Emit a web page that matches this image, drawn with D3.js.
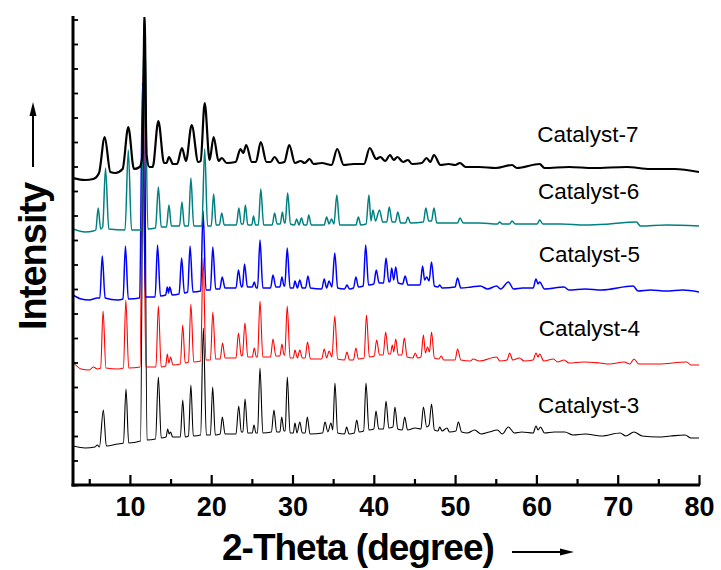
<!DOCTYPE html>
<html><head><meta charset="utf-8">
<script src="https://cdn.jsdelivr.net/npm/d3@7/dist/d3.min.js"></script>
<style>
body{margin:0;background:#fff}
svg{display:block;background:#fff}
text{font-family:"Liberation Sans",Arial,Helvetica,sans-serif;fill:#000}
</style>
</head><body>
<svg id="chart" width="721" height="570"></svg>
<script>
// ---------- DATA (2-Theta in degrees, intensity in a.u., curves already stacked) ----------
const seriesNames = ["Catalyst-3", "Catalyst-4", "Catalyst-5", "Catalyst-6", "Catalyst-7"];

const catalyst3 = [[3,39],[4.5,37],[5.7,38],[6.0,40],[6.25,38],[6.73,75],[7.1,39],[8.5,41],[9.2,42],[9.52,96],[9.85,42],[11.3,44],[11.73,470],[12.1,45],[13.15,46],[13.5,108],[13.85,47],[14.45,48],[14.65,56],[14.82,51],[15.0,53],[15.25,48],[16.2,48],[16.5,85],[16.8,48],[17.2,49],[17.5,100],[17.8,49],[18.7,50],[19.03,157],[19.4,50],[19.9,50],[20.18,98],[20.5,50],[21.1,51],[21.37,68],[21.7,51],[23.05,51],[23.38,79],[23.7,53],[23.9,53],[24.16,86],[24.5,52],[25.05,52],[25.26,60],[25.5,52],[25.7,52],[26.0,117],[26.35,52],[27.4,53],[27.72,75],[28.05,53],[28.45,53],[28.67,68],[28.95,54],[29.1,54],[29.36,108],[29.7,52],[30.1,52],[30.3,62],[30.55,52],[30.9,63],[31.2,52],[31.55,52],[31.82,68],[32.15,51],[33.7,52],[34.0,63],[34.35,53],[34.73,62],[34.95,55],[35.22,102],[35.55,52],[36.4,51],[36.66,58],[36.95,51],[37.6,52],[37.9,65],[38.2,53],[38.75,54],[39.04,102],[39.4,55],[40.0,56],[40.27,74],[40.6,56],[41.2,56],[41.5,84],[41.85,57],[42.35,58],[42.6,78],[42.95,56],[43.5,55],[43.8,68],[44.15,55],[45.1,57],[45.8,56],[46.1,78],[46.5,58],[46.8,60],[47.1,81],[47.45,55],[47.9,54],[48.1,58],[48.4,54],[49.0,57],[49.3,53],[50.1,54],[50.4,63],[50.8,53],[51.5,52],[52.4,55],[53.2,51],[54.2,53],[55.2,55],[55.8,51],[56.55,58],[57.3,52],[58.2,53],[59.6,52],[59.95,59],[60.2,55],[60.5,58],[61.0,52],[62.2,53],[63.5,53],[64.5,50],[66,51],[68,49],[70.3,52],[71,49],[72.0,53],[73,49],[75,48],[76.5,49],[78.3,50],[79,47],[80,47]];

const catalyst4 = [[3,123],[4,116],[5,115],[5.5,118],[6.0,116],[6.4,117],[6.7,174],[7.05,117],[8.5,116],[9.2,117],[9.5,185],[9.85,117],[11.25,118],[11.6,408],[11.95,118],[13.2,118],[13.5,179],[13.85,118],[14.4,119],[14.6,131],[14.8,122],[15.0,128],[15.3,120],[16.2,121],[16.5,160],[16.8,122],[17.2,123],[17.5,181],[17.85,123],[18.7,124],[19.0,227],[19.35,125],[19.9,125],[20.2,173],[20.55,126],[21.1,126],[21.4,142],[21.7,127],[23.05,127],[23.35,152],[23.7,129],[23.85,130],[24.15,162],[24.5,128],[25.05,128],[25.3,137],[25.55,128],[25.7,128],[26.0,184],[26.35,128],[27.3,128],[27.6,146],[27.95,129],[28.45,129],[28.7,141],[28.95,130],[29.05,130],[29.35,179],[29.7,127],[30.1,127],[30.3,135],[30.6,127],[30.9,135],[31.2,127],[31.55,127],[31.85,143],[32.2,126],[33.6,126],[33.9,136],[34.2,127],[34.5,134],[34.85,128],[35.2,169],[35.55,126],[36.4,125],[36.7,133],[37.0,125],[37.5,125],[37.8,137],[38.1,126],[38.8,127],[39.1,170],[39.45,128],[40.05,129],[40.35,145],[40.7,130],[41.15,130],[41.46,153],[41.8,131],[42.05,131],[42.27,140],[42.45,133],[42.7,146],[43.0,130],[43.45,130],[43.75,147],[44.1,128],[44.8,127],[45.1,132],[45.4,127],[45.8,128],[46.1,150],[46.35,132],[46.6,138],[46.85,133],[47.1,153],[47.45,127],[48.0,126],[48.3,129],[48.6,125],[50.0,125],[50.3,136],[50.7,125],[51.9,124],[52.2,126],[53,124],[55.1,128],[55.5,124],[56.4,125],[56.7,132],[57.1,125],[57.9,127],[58.5,124],[59.6,125],[59.95,132],[60.2,128],[60.4,131],[60.9,124],[62.1,126],[62.6,123],[63.4,125],[64,122],[65.8,123],[67.8,122],[69,121],[70.8,123],[71.5,121],[72.0,126],[72.6,121],[75,121],[78.5,123],[79,120],[80,120]];

const catalyst5 = [[3,190],[4,186],[5,185],[6.0,187],[6.3,187],[6.6,229],[6.95,187],[8.5,185],[9.15,186],[9.45,239],[9.8,186],[11.2,187],[11.55,402],[11.9,188],[13.1,188],[13.4,240],[13.75,189],[14.4,190],[14.6,198],[14.75,192],[14.9,198],[15.2,190],[16.05,191],[16.36,227],[16.7,192],[17.1,193],[17.4,239],[17.75,193],[18.7,194],[19.0,274],[19.35,195],[19.9,195],[20.2,238],[20.55,196],[21.05,196],[21.35,208],[21.7,197],[23.05,197],[23.35,215],[23.7,198],[23.85,199],[24.1,221],[24.45,198],[25.05,198],[25.3,203],[25.55,197],[25.7,197],[26.0,245],[26.35,197],[27.3,197],[27.6,210],[27.95,198],[28.45,198],[28.7,208],[28.95,199],[29.05,199],[29.35,237],[29.7,197],[30.1,197],[30.3,204],[30.6,197],[30.9,205],[31.2,197],[31.6,197],[31.9,209],[32.2,197],[33.6,196],[33.9,206],[34.2,197],[34.5,204],[34.85,198],[35.2,232],[35.55,197],[36.4,196],[36.7,200],[37.0,196],[37.5,197],[37.8,208],[38.1,198],[38.7,199],[39.0,240],[39.35,200],[40.0,201],[40.3,215],[40.65,202],[41.2,202],[41.5,227],[41.85,203],[42.0,204],[42.2,217],[42.45,205],[42.7,218],[43.0,202],[43.55,201],[43.85,209],[44.2,200],[45.7,200],[46.0,219],[46.25,205],[46.5,208],[46.8,204],[47.1,223],[47.45,199],[47.9,198],[48.1,200],[48.4,197],[50.0,198],[50.3,207],[50.7,197],[52,198],[53.1,199],[54,196],[55.1,199],[55.6,196],[56.55,203],[57.2,196],[58.3,197],[59.6,197],[59.95,206],[60.2,201],[60.4,203],[61,196],[63.4,198],[64,195],[66,196],[68,195],[71.9,199],[72.5,194],[74,195],[76,194],[78,195],[80,193]];

const catalyst6 = [[3,256],[4.5,253],[5.5,254],[5.8,255],[6.1,277],[6.4,256],[6.65,258],[7.0,317],[7.4,256],[9.4,255],[9.8,335],[10.2,255],[11.4,255],[11.8,470],[12.2,256],[13.15,257],[13.5,298],[13.85,258],[14.5,258],[14.8,280],[15.1,259],[16.1,259],[16.4,283],[16.7,259],[17.2,259],[17.5,307],[17.85,259],[18.85,259],[19.2,336],[19.55,259],[20.0,259],[20.3,291],[20.6,260],[21.0,260],[21.3,272],[21.6,260],[23.1,260],[23.4,277],[23.7,261],[23.95,261],[24.2,280],[24.5,260],[25.0,260],[25.2,269],[25.45,260],[25.8,260],[26.1,296],[26.45,260],[27.5,260],[27.8,272],[28.1,261],[28.5,261],[28.75,273],[29.0,262],[29.1,262],[29.4,292],[29.75,261],[30.25,260],[30.5,266],[30.8,260],[31.1,267],[31.4,260],[31.75,260],[32.0,270],[32.3,260],[33.9,260],[34.2,268],[34.5,261],[34.8,266],[35.1,261],[35.45,290],[35.8,260],[37.8,260],[38.1,268],[38.4,260],[39.05,261],[39.4,290],[39.65,264],[39.9,275],[40.2,264],[40.7,275],[41.1,263],[41.6,263],[41.9,278],[42.25,263],[42.65,263],[42.95,273],[43.3,262],[43.9,262],[44.2,268],[44.5,262],[46.1,263],[46.4,277],[46.75,264],[47.1,264],[47.4,277],[47.75,262],[50.3,262],[50.6,267],[51,262],[53,262],[55.2,261],[55.5,263],[55.8,261],[56.7,261],[57.0,264],[57.4,261],[60.1,261],[60.4,265],[60.8,261],[63,261],[66,260],[69,261],[72.3,263],[72.8,259],[76,260],[80,259]];

const catalyst7 = [[3,307],[4.5,305],[5.5,306],[6.2,312],[6.9,348],[7.6,313],[8.2,312],[9.1,316],[9.8,358],[10.5,316],[11.2,318],[11.55,330],[11.8,470],[12.05,330],[12.4,318],[12.8,318],[13.5,364],[14.2,322],[14.5,322],[14.8,328],[15.3,321],[15.8,321],[16.4,337],[16.9,324],[17.6,360],[18.4,323],[18.7,324],[19.2,382],[19.8,325],[20.3,348],[20.9,324],[21.3,327],[21.9,322],[23.0,323],[23.6,336],[23.95,332],[24.3,340],[25.0,323],[25.5,323],[26.1,343],[26.8,323],[27.3,323],[27.8,328],[28.4,322],[29.0,323],[29.6,340],[30.3,322],[31.0,324],[31.5,322],[32.1,326],[32.6,321],[33.6,322],[34.8,320],[35.5,336],[36.3,320],[37.5,321],[38.8,321],[39.5,337],[40.3,326],[40.8,328],[41.4,324],[42.0,330],[42.45,325],[42.9,328],[43.6,323],[44.2,325],[44.7,321],[45.9,322],[46.5,327],[46.95,323],[47.4,330],[48.2,320],[49.2,321],[50.0,320],[50.6,322],[51.3,318],[53,318],[55,317],[57.0,320],[57.6,317],[60.4,321],[61,317],[64,318],[67,317],[71.1,318],[74,316],[77,316],[80,313]];

const seriesData = [catalyst3, catalyst4, catalyst5, catalyst6, catalyst7];
const seriesColors = ["#000000", "#ff0000", "#0000ff", "#008080", "#000000"];
const seriesWidths = [1.1, 1.1, 1.5, 1.5, 2.2];

const xMajorTicks = [10, 20, 30, 40, 50, 60, 70, 80];
const xMinorTicks = [5, 15, 25, 35, 45, 55, 65, 75];
const xDomain = [3, 80];
const yDomain = [0, 468];
const yTickStep = 24.5;

// label anchor values in data units (2-Theta, intensity)
const labelAnchors = [[60.2, 72], [60.3, 149], [60.3, 223], [60.2, 286], [60.1, 343]];

// ---------- DRAW ----------
const svg = d3.select("#chart");
const W = 721, H = 570;
const m = {left: 73, right: 22, top: 17, bottom: 85};

const x = d3.scaleLinear().domain(xDomain).range([m.left, W - m.right]);
const y = d3.scaleLinear().domain(yDomain).range([H - m.bottom, m.top]);

svg.append("rect").attr("width", W).attr("height", H).attr("fill", "#fff");

svg.append("clipPath").attr("id", "plotclip")
  .append("rect")
  .attr("x", m.left).attr("y", m.top)
  .attr("width", W - m.right - m.left).attr("height", (H - m.bottom) - m.top);

const line = d3.line().x(d => x(d[0])).y(d => y(d[1])).curve(d3.curveMonotoneX);

const g = svg.append("g").attr("clip-path", "url(#plotclip)");
seriesData.forEach((s, i) => {
  g.append("path")
    .datum(s)
    .attr("fill", "none")
    .attr("stroke", seriesColors[i])
    .attr("stroke-width", seriesWidths[i])
    .attr("stroke-linejoin", "round")
    .attr("d", line);
});

// series labels
seriesNames.forEach((name, i) => {
  svg.append("text")
    .attr("x", x(labelAnchors[i][0]))
    .attr("y", y(labelAnchors[i][1]))
    .attr("font-size", 22.5)
    .text(name);
});

// x axis: major ticks (inward) with labels
const xAxisMajor = d3.axisBottom(x).tickValues(xMajorTicks).tickSize(-10).tickPadding(12).tickFormat(d3.format("d"));
const gx = svg.append("g").attr("transform", `translate(0,${H - m.bottom})`).call(xAxisMajor);
gx.select(".domain").remove();
gx.selectAll(".tick line").attr("stroke", "#000").attr("stroke-width", 2.2);
gx.selectAll(".tick text").attr("font-size", 27).attr("font-weight", "bold")
  .attr("font-family", "'Liberation Sans', Arial, sans-serif").attr("fill", "#000");

const xAxisMinor = d3.axisBottom(x).tickValues(xMinorTicks).tickSize(-6).tickFormat("");
const gxm = svg.append("g").attr("transform", `translate(0,${H - m.bottom})`).call(xAxisMinor);
gxm.select(".domain").remove();
gxm.selectAll(".tick line").attr("stroke", "#000").attr("stroke-width", 2.2);

// y axis: ticks inward, no labels
const yAxis = d3.axisLeft(y).tickValues(d3.range(yDomain[0], yDomain[1], yTickStep)).tickSize(-5).tickFormat("");
const gy = svg.append("g").attr("transform", `translate(${m.left},0)`).call(yAxis);
gy.select(".domain").remove();
gy.selectAll(".tick line").attr("stroke", "#000").attr("stroke-width", 1.8);

// axis lines
svg.append("line").attr("x1", m.left).attr("x2", m.left).attr("y1", m.top - 1).attr("y2", H - m.bottom + 1.5)
  .attr("stroke", "#000").attr("stroke-width", 3);
svg.append("line").attr("x1", m.left - 1.5).attr("x2", W - m.right + 1).attr("y1", H - m.bottom).attr("y2", H - m.bottom)
  .attr("stroke", "#000").attr("stroke-width", 3);

// axis titles
svg.append("text")
  .attr("x", 222).attr("y", 560)
  .attr("font-size", 37).attr("font-weight", "bold").attr("letter-spacing", -1)
  .text("2-Theta (degree)");

svg.append("text")
  .attr("transform", "translate(46,330) rotate(-90)")
  .attr("font-size", 38).attr("font-weight", "bold").attr("letter-spacing", -1)
  .text("Intensity");

// arrows
svg.append("line").attr("x1", 33).attr("x2", 33).attr("y1", 167).attr("y2", 112)
  .attr("stroke", "#000").attr("stroke-width", 2);
svg.append("path").attr("d", "M33,102 L29.5,116 L36.5,116 Z").attr("fill", "#000");

svg.append("line").attr("x1", 512).attr("x2", 562).attr("y1", 552).attr("y2", 552)
  .attr("stroke", "#000").attr("stroke-width", 2);
svg.append("path").attr("d", "M574,552 L560,548.5 L560,555.5 Z").attr("fill", "#000");
</script>
</body></html>
